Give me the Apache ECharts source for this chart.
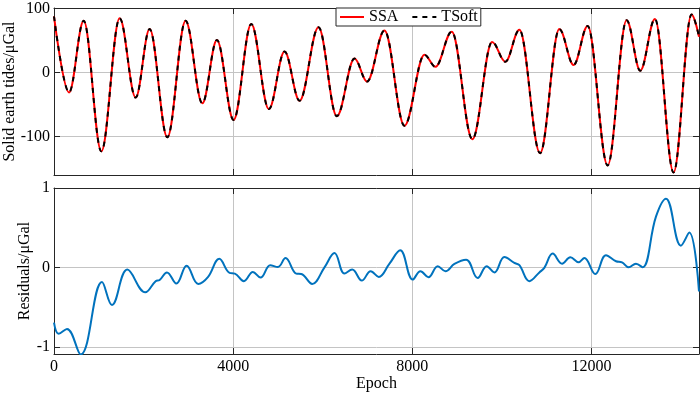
<!DOCTYPE html>
<html>
<head>
<meta charset="utf-8">
<script src="https://cdn.jsdelivr.net/npm/echarts@6/dist/echarts.min.js"></script>
<style>
  html, body { margin: 0; padding: 0; background: #fff; }
  #main { width: 700px; height: 393px; }
</style>
</head>
<body>
<div id="main"></div>
<script>
// peaks / troughs
const tideEpoch = [0, 335, 663, 1057, 1466, 1823, 2135, 2530, 2938, 3311, 3637, 4009, 4404, 4797, 5147, 5482, 5905, 6314, 6709, 6990,
  7378, 7824, 8270, 8516, 8880, 9340, 9781, 10078, 10390, 10852, 11282, 11601, 11914, 12360, 12784, 13089, 13417, 13832, 14234, 14400]
const tideValue = [88, -31, 81, -123, 85, -39, 68, -101, 81, -48, 51, -74, 76, -57, 33, -44, 71, -68, 22, -14,
  66, -83, 28, 9, 64, -104, 48, 17, 67, -126, 68, 12, 73, -145, 82, 3, 84, -156, 91, 56]

// residuals panel
const resEpoch = [0, 105, 290, 596, 1071, 1294, 1637, 2038, 2269, 2358, 2521, 2731, 2961, 3221, 3436, 3690, 3920, 4038, 4239, 4440,
  4611, 4828, 4998, 5169, 5408, 5520, 5765, 6039, 6262, 6485, 6657, 6872, 7070, 7251, 7490, 7728, 8009, 8181, 8360, 8567,
  8739, 8940, 9200, 9459, 9660, 9832, 10055, 10278, 10390, 10613, 10836, 10947, 11133, 11343, 11528, 11713, 11840, 12085, 12324, 12547,
  12681, 12828, 12993, 13141, 13439, 13663, 13997, 14183, 14400]
const resValue = [-0.69, -0.83, -0.77, -1.09, -0.18, -0.47, -0.025, -0.31, -0.17, -0.155, -0.06, -0.20, 0.025, -0.205, -0.12, 0.11, -0.067, -0.075, -0.17, -0.054,
  -0.125, 0.03, 0.008, 0.12, -0.075, -0.08, -0.205, 0.004, 0.184, -0.075, -0.025, -0.163, -0.046, -0.117, 0.05, 0.218, -0.15, -0.046, -0.12, 0.017,
  -0.046, 0.046, 0.10, -0.13, 0.017, -0.06, 0.134, 0.059, 0.03, -0.17, -0.06, -0.004, 0.176, 0.05, 0.13, 0.067, 0.12, -0.08, 0.155, 0.08,
  0.067, 0.004, 0.05, 0.004, 0.64, 0.866, 0.276, 0.44, -0.30]

const epochTicks = [0, 4000, 8000, 12000]
const tideTicks = [-100, 0, 100]
const resTicks = [-1, 0, 1]

const FONT = 'Liberation Serif'
const BOX = '#262626'
const GRIDLINE = '#c4c4c4'

const tideData = tideEpoch.map((x, i) => [x, tideValue[i]])
const resData = resEpoch.map((x, i) => [x, resValue[i]])

function xAx(grid, pos, showLabel, name) {
  return {
    type: 'value', gridIndex: grid, position: pos,
    min: 0, max: 14400,
    name: name || '', nameLocation: 'middle', nameGap: 22, nameMoveOverlap: false,
    nameTextStyle: { fontFamily: FONT, fontSize: 16, color: '#000' },
    axisLine: { show: true, onZero: false, lineStyle: { color: BOX, width: 1 } },
    axisTick: { show: true, inside: true, length: 6, customValues: epochTicks, lineStyle: { color: BOX } },
    axisLabel: {
      show: showLabel, margin: 5, customValues: epochTicks, formatter: v => String(v),
      fontFamily: FONT, fontSize: 16, color: '#000'
    },
    splitLine: { show: pos === 'bottom', lineStyle: { color: GRIDLINE, width: 1 } }
  }
}

function yAx(grid, pos, min, max, ticks, name, gap) {
  return {
    type: 'value', gridIndex: grid, position: pos,
    min: min, max: max,
    name: name || '', nameLocation: 'middle', nameGap: gap || 0, nameMoveOverlap: false,
    nameTextStyle: { fontFamily: FONT, fontSize: 16, color: '#000' },
    axisLine: { show: true, onZero: false, lineStyle: { color: BOX, width: 1 } },
    axisTick: { show: true, inside: true, length: 6, customValues: ticks, lineStyle: { color: BOX } },
    axisLabel: {
      show: pos === 'left', margin: 4, customValues: ticks, formatter: v => String(v),
      fontFamily: FONT, fontSize: 16, color: '#000'
    },
    splitLine: { show: pos === 'left', lineStyle: { color: GRIDLINE, width: 1 } }
  }
}

const chart = echarts.init(document.getElementById('main'))
chart.setOption({
  animation: false,
  backgroundColor: '#fff',
  grid: [
    { left: 54, right: 1, top: 8, height: 167, containLabel: false, outerBoundsMode: 'none' },
    { left: 54, right: 1, top: 188, height: 166, containLabel: false, outerBoundsMode: 'none' }
  ],
  legend: {
    data: ['SSA', 'TSoft'],
    left: 336, top: 8,
    padding: [1, 3, 1, 3],
    itemWidth: 24, itemHeight: 16, itemGap: 13,
    itemStyle: { opacity: 0 },
    backgroundColor: '#fff', borderColor: BOX, borderWidth: 1,
    textStyle: { fontFamily: FONT, fontSize: 16, color: '#000' }
  },
  xAxis: [
    xAx(0, 'bottom', false),
    xAx(0, 'top', false),
    xAx(1, 'bottom', true, 'Epoch'),
    xAx(1, 'top', false)
  ],
  yAxis: [
    yAx(0, 'left', -160, 101, tideTicks, 'Solid earth tides/\u03bcGal', 36),
    yAx(0, 'right', -160, 101, tideTicks),
    yAx(1, 'left', -1.085, 1, resTicks, 'Residuals/\u03bcGal', 21),
    yAx(1, 'right', -1.085, 1, resTicks)
  ],
  series: [
    {
      name: 'SSA', type: 'line', xAxisIndex: 0, yAxisIndex: 0,
      data: tideData, symbol: 'none', smooth: 0.36, smoothMonotone: 'x',
      lineStyle: { color: '#ff0000', width: 2 }, itemStyle: { color: '#ff0000' }
    },
    {
      name: 'TSoft', type: 'line', xAxisIndex: 0, yAxisIndex: 0,
      data: tideData, symbol: 'none', smooth: 0.36, smoothMonotone: 'x',
      lineStyle: { color: '#000', width: 2, type: [5, 5] }, itemStyle: { color: '#000' }
    },
    {
      name: 'Residuals', type: 'line', xAxisIndex: 2, yAxisIndex: 2,
      data: resData, symbol: 'none', smooth: 0.4,
      lineStyle: { color: '#0072BD', width: 2 }, itemStyle: { color: '#0072BD' }
    }
  ]
})
</script>
</body>
</html>
